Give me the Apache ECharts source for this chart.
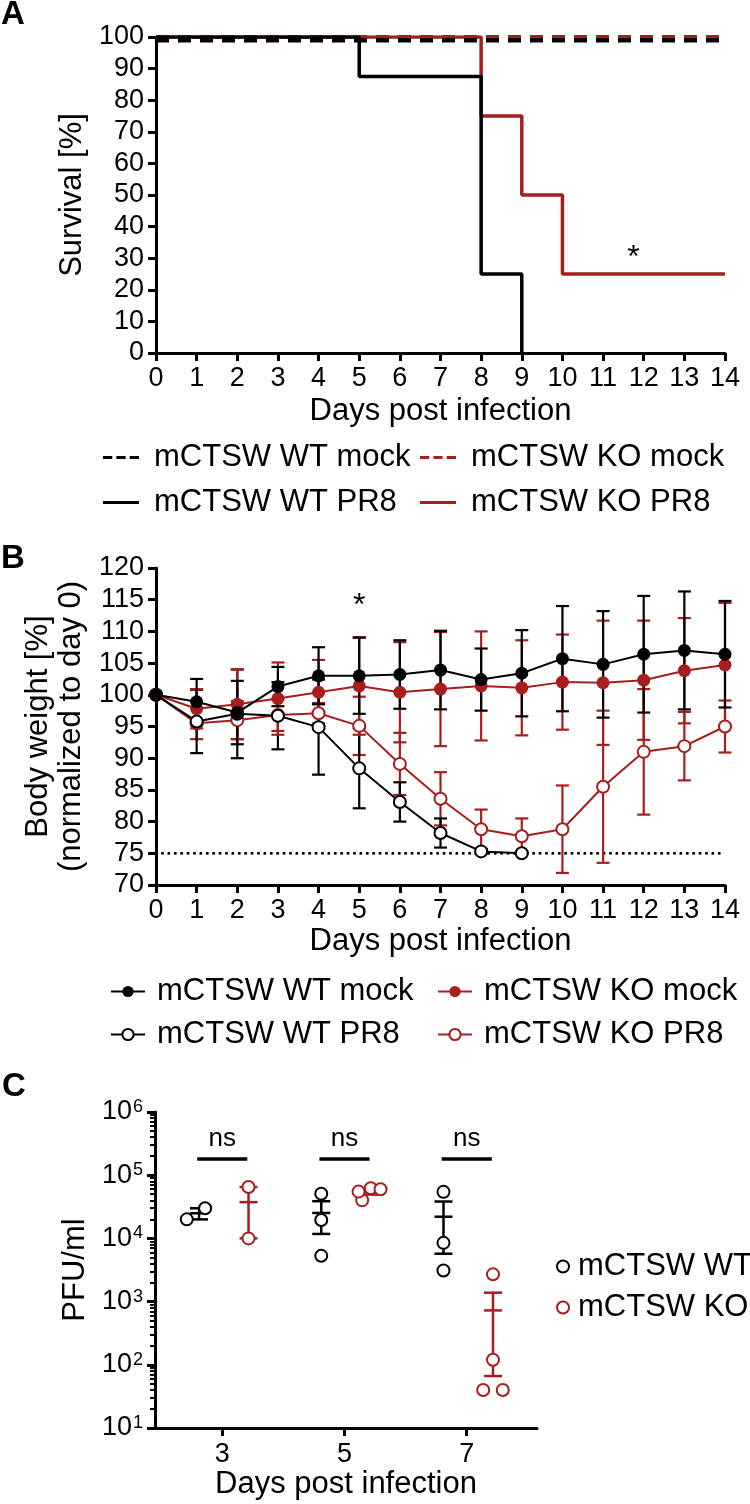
<!DOCTYPE html>
<html><head><meta charset="utf-8">
<script src="https://cdn.jsdelivr.net/npm/echarts@6/dist/echarts.min.js"></script>
<style>html,body{margin:0;padding:0;background:#fff}#c{width:750px;height:1504px}</style>
</head><body><div id="c"></div><script>
const FONT = '"Liberation Sans", Arial, Helvetica, sans-serif';
const RED = '#a81d1d';
const BLACK = '#000';

// ---------- Panel A: survival ----------
const dayTicks = [0,1,2,3,4,5,6,7,8,9,10,11,12,13,14];
const wtMockDays = [0, 14];        const wtMockSurv = [99, 99];
const koMockDays = [0, 14];        const koMockSurv = [100, 100];
const wtPr8Days  = [0, 5, 8, 9];   const wtPr8Surv  = [100, 87.5, 25, 0];
const koPr8Days  = [0, 8, 9, 10, 14]; const koPr8Surv = [100, 75, 50, 25, 25];
const survStar = [11.75, 30];

// ---------- Panel B: body weight (mean, SD) ----------
const bwDays = [0,1,2,3,4,5,6,7,8,9,10,11,12,13,14];
const wtMockMean = [100, 98.9, 97.2, 101.3, 103.0, 103.0, 103.2, 103.9, 102.4, 103.4, 105.7, 104.8, 106.4, 107.0, 106.4];
const wtMockSD   = [0, 3.6, 5.0, 3.1, 4.5, 6.0, 5.4, 6.2, 4.9, 6.8, 8.3, 8.4, 9.2, 9.3, 8.4];
const koMockMean = [100, 97.8, 98.5, 99.4, 100.4, 101.4, 100.4, 100.9, 101.4, 101.1, 102.0, 101.9, 102.3, 103.8, 104.7];
const koMockSD   = [0, 3.1, 5.5, 5.7, 5.1, 7.7, 7.9, 9.0, 8.6, 7.5, 7.5, 9.8, 9.4, 8.3, 9.8];
const wtPr8Mean  = [100, 95.8, 97.0, 96.7, 94.9, 88.4, 83.1, 78.2, 75.3, 75.0];
const wtPr8SD    = [0, 5.0, 7.0, 5.3, 7.5, 6.3, 3.1, 2.3, 0.4, 0];
const koPr8Mean  = [100, 95.5, 96.0, 96.8, 97.1, 95.1, 89.1, 83.6, 78.8, 77.7, 78.8, 85.5, 91.0, 91.9, 95.0];
const koPr8SD    = [0, 2.5, 3.0, 2.5, 1.6, 4.6, 4.9, 4.2, 3.1, 2.8, 6.9, 12.0, 9.9, 5.4, 4.1];
const bwCutoff = 75;
const bwStar = [5, 114];

// ---------- Panel C: viral titres (PFU/ml), individual mice ----------
const pfuDays = [3, 5, 7];
const wtPfu = [[2.0e4, 3.0e4], [5.1e4, 1.95e4, 5.3e3], [5.45e4, 8.5e3, 3.1e3]];
const wtJitter = [[-0.2, 0.1], [0, 0, 0], [0, 0, 0]];
const koPfu = [[6.5e4, 1.0e4], [4.0e4, 5.5e4, 6.2e4, 6.0e4], [2.7e3, 120, 40, 40]];
const koJitter = [[0, 0], [-0.14, -0.2, 0, 0.16], [0, 0, -0.16, 0.16]];
const wtGroupOffset = -0.38, koGroupOffset = 0.43;
const nsLabels = ['ns', 'ns', 'ns'];
const nsLevel = 1.8e5;
const pfuXMin = 1.9, pfuXMax = 8.15;

// ---------- helpers ----------
const zip = (xs, ys) => xs.map((x, i) => [x, ys[i]]);
const sdBars = (means, sds) => means.map((m, i) => [bwDays[i], m - sds[i], m + sds[i]]).filter((d, i) => sds[i] > 0);
function meanOf(a) { return a.reduce((s, v) => s + v, 0) / a.length; }
function semOf(a) { const m = meanOf(a); const v = a.reduce((s, x) => s + (x - m) * (x - m), 0) / (a.length - 1); return Math.sqrt(v / a.length); }

function errSeries(xi, yi, data, color, halfW, lw, withMean, z) {
  return {
    type: 'custom', xAxisIndex: xi, yAxisIndex: yi, z: z, silent: true,
    encode: { x: 0, y: [1, 2] },
    renderItem(params, api) {
      const x = api.value(0);
      const top = api.coord([x, api.value(2)]);
      const bot = api.coord([x, api.value(1)]);
      const st = { stroke: color, lineWidth: lw };
      const ch = [
        { type: 'line', shape: { x1: top[0], y1: top[1], x2: bot[0], y2: bot[1] }, style: st },
        { type: 'line', shape: { x1: top[0] - halfW, y1: top[1], x2: top[0] + halfW, y2: top[1] }, style: st },
        { type: 'line', shape: { x1: bot[0] - halfW, y1: bot[1], x2: bot[0] + halfW, y2: bot[1] }, style: st }
      ];
      if (withMean) {
        const mid = api.coord([x, api.value(3)]);
        ch.push({ type: 'line', shape: { x1: mid[0] - halfW, y1: mid[1], x2: mid[0] + halfW, y2: mid[1] }, style: st });
      }
      return { type: 'group', children: ch };
    },
    data: data
  };
}
function textSeries(xi, yi, data, size) {
  return {
    type: 'custom', xAxisIndex: xi, yAxisIndex: yi, silent: true, z: 10,
    renderItem(params, api) {
      const p = api.coord([api.value(0), api.value(1)]);
      return { type: 'text', x: p[0], y: p[1], style: { text: '*', font: size + 'px ' + FONT, fill: '#000', align: 'center', verticalAlign: 'middle' } };
    },
    data: [data]
  };
}

const TICK_FS = 27, TITLE_FS = 31;
const axisCommon = {
  axisLine: { show: true, onZero: false, lineStyle: { color: '#000', width: 3 } },
  axisTick: { show: true, inside: false, length: 8, lineStyle: { color: '#000', width: 3 } },
  axisLabel: { color: '#000', fontSize: TICK_FS, fontFamily: FONT, margin: 12 },
  splitLine: { show: false },
  nameTextStyle: { color: '#000', fontSize: TITLE_FS, fontFamily: FONT },
  nameLocation: 'middle'
};
const ax = (o) => Object.assign({}, JSON.parse(JSON.stringify(axisCommon)), o);

// C error data
const cWtErr = pfuDays.map((d, i) => { const m = meanOf(wtPfu[i]), s = semOf(wtPfu[i]); return [d + wtGroupOffset, m - s, m + s, m]; });
const cKoErr = pfuDays.map((d, i) => { const m = meanOf(koPfu[i]), s = semOf(koPfu[i]); return [d + koGroupOffset, m - s, m + s, m]; });
const cWtPts = [], cKoPts = [];
pfuDays.forEach((d, i) => {
  wtPfu[i].forEach((v, j) => cWtPts.push([d + wtGroupOffset + wtJitter[i][j], v]));
  koPfu[i].forEach((v, j) => cKoPts.push([d + koGroupOffset + koJitter[i][j], v]));
});

const legendText = (pad) => ({ color: '#000', fontSize: TITLE_FS, fontFamily: FONT, padding: [0, 0, 0, pad] });
const dashIcon = 'path://M0,0H9V3H0Z M13,0H22V3H13Z M26,0H35V3H26Z';
const solidIcon = 'path://M0,0H35V3H0Z';
function legA(name, left, top, icon) {
  return { data: [{ name: name, icon: icon }], left: left, top: top, itemWidth: 36, itemHeight: 4, padding: 0, selectedMode: false, textStyle: legendText(10) };
}
function legB(name, left, top) {
  return { data: [name], left: left, top: top, itemWidth: 34, itemHeight: 14, padding: 0, selectedMode: false, textStyle: legendText(7),
    formatter: n => n.replace('B:', '') };
}
function legC(name, left, top) {
  return { data: [name], left: left, top: top, itemWidth: 12, itemHeight: 12, padding: 0, selectedMode: false, textStyle: legendText(4) };
}

const option = {
  animation: false,
  backgroundColor: '#fff',
  textStyle: { fontFamily: FONT },
  grid: [
    { left: 156, top: 37, width: 569, height: 316, outerBoundsMode: 'none' },
    { left: 156, top: 568, width: 569, height: 317, outerBoundsMode: 'none' },
    { left: 155, top: 1112, width: 382, height: 316, outerBoundsMode: 'none' }
  ],
  xAxis: [
    ax({ gridIndex: 0, type: 'value', min: 0, max: 14, interval: 1, name: 'Days post infection', nameGap: 43 }),
    ax({ gridIndex: 1, type: 'value', min: 0, max: 14, interval: 1, name: 'Days post infection', nameGap: 41 }),
    ax({ gridIndex: 2, type: 'value', min: pfuXMin, max: pfuXMax, name: 'Days post infection', nameGap: 41,
         axisTick: { show: true, length: 8, customValues: pfuDays, lineStyle: { color: '#000', width: 3 } },
         axisLabel: { color: '#000', fontSize: TICK_FS, fontFamily: FONT, margin: 13, customValues: pfuDays } })
  ],
  yAxis: [
    ax({ gridIndex: 0, type: 'value', min: 0, max: 100, interval: 10, name: 'Survival [%]', nameGap: 54 }),
    ax({ gridIndex: 1, type: 'value', min: 70, max: 120, interval: 5, name: 'Body weight [%]\n(normalized to day 0)', nameGap: 66,
         nameTextStyle: { color: '#000', fontSize: TITLE_FS, fontFamily: FONT, lineHeight: 33 } }),
    ax({ gridIndex: 2, type: 'log', logBase: 10, min: 10, max: 1e6, name: 'PFU/ml', nameGap: 59,
         minorTick: { show: true, splitNumber: 9, length: 5, lineStyle: { color: '#000', width: 2 } },
         axisLabel: { color: '#000', fontFamily: FONT, margin: 12,
           formatter: v => '{b|10}{s|' + Math.round(Math.log10(v)) + '}',
           rich: { b: { fontSize: TICK_FS, fontFamily: FONT, color: '#000' }, s: { fontSize: 18, fontFamily: FONT, color: '#000', verticalAlign: 'top', padding: [0, 0, 10, 1] } } } })
  ],
  legend: [
    legA('mCTSW WT mock', 103, 442, dashIcon),
    legA('mCTSW KO mock', 420, 442, dashIcon),
    legA('mCTSW WT PR8', 103, 487, solidIcon),
    legA('mCTSW KO PR8', 420, 487, solidIcon),
    legB('B:mCTSW WT mock', 110, 976),
    legB('B:mCTSW KO mock', 437, 976),
    legB('B:mCTSW WT PR8', 110, 1019),
    legB('B:mCTSW KO PR8', 437, 1019),
    legC('mCTSW WT', 556, 1251),
    legC('mCTSW KO', 556, 1292)
  ],
  graphic: [
    { type: 'text', x: 1, y: 15, style: { text: 'A', font: 'bold 33px ' + FONT, fill: '#000', verticalAlign: 'middle' } },
    { type: 'text', x: 1, y: 559, style: { text: 'B', font: 'bold 33px ' + FONT, fill: '#000', verticalAlign: 'middle' } },
    { type: 'text', x: 2, y: 1087, style: { text: 'C', font: 'bold 33px ' + FONT, fill: '#000', verticalAlign: 'middle' } }
  ],
  series: [
    // Panel A
    { name: 'mCTSW KO mock', type: 'line', xAxisIndex: 0, yAxisIndex: 0, data: zip(koMockDays, koMockSurv), symbol: 'none', z: 1,
      itemStyle: { color: RED }, lineStyle: { color: RED, width: 4, type: [13, 9] } },
    { name: 'mCTSW KO PR8', type: 'line', xAxisIndex: 0, yAxisIndex: 0, data: zip(koPr8Days, koPr8Surv), step: 'end', symbol: 'none', z: 2,
      itemStyle: { color: RED }, lineStyle: { color: RED, width: 3.5 } },
    { name: 'mCTSW WT PR8', type: 'line', xAxisIndex: 0, yAxisIndex: 0, data: zip(wtPr8Days, wtPr8Surv), step: 'end', symbol: 'none', z: 3,
      itemStyle: { color: BLACK }, lineStyle: { color: BLACK, width: 3.5 } },
    { name: 'mCTSW WT mock', type: 'line', xAxisIndex: 0, yAxisIndex: 0, data: zip(wtMockDays, wtMockSurv), symbol: 'none', z: 4,
      itemStyle: { color: BLACK }, lineStyle: { color: BLACK, width: 4.5, type: [13, 9] } },
    textSeries(0, 0, survStar, 32),

    // Panel B
    { type: 'line', xAxisIndex: 1, yAxisIndex: 1, data: [[0, bwCutoff], [14, bwCutoff]], symbol: 'none', silent: true, z: 1,
      lineStyle: { color: '#000', width: 3, type: [0.1, 6.3], cap: 'round' } },
    errSeries(1, 1, sdBars(koPr8Mean, koPr8SD), RED, 6.5, 2.2, false, 2),
    errSeries(1, 1, sdBars(wtPr8Mean, wtPr8SD), BLACK, 6.5, 2.2, false, 2),
    errSeries(1, 1, sdBars(koMockMean, koMockSD), RED, 6.5, 2.2, false, 2),
    errSeries(1, 1, sdBars(wtMockMean, wtMockSD), BLACK, 6.5, 2.2, false, 2),
    { name: 'B:mCTSW KO PR8', type: 'line', xAxisIndex: 1, yAxisIndex: 1, data: zip(bwDays, koPr8Mean), symbol: 'emptyCircle', symbolSize: 12, z: 3,
      itemStyle: { color: RED, borderWidth: 2 }, lineStyle: { color: RED, width: 2 } },
    { name: 'B:mCTSW WT PR8', type: 'line', xAxisIndex: 1, yAxisIndex: 1, data: zip(bwDays.slice(0, wtPr8Mean.length), wtPr8Mean), symbol: 'emptyCircle', symbolSize: 12, z: 4,
      itemStyle: { color: BLACK, borderWidth: 2 }, lineStyle: { color: BLACK, width: 2 } },
    { name: 'B:mCTSW KO mock', type: 'line', xAxisIndex: 1, yAxisIndex: 1, data: zip(bwDays, koMockMean), symbol: 'circle', symbolSize: 13, z: 5,
      itemStyle: { color: RED }, lineStyle: { color: RED, width: 2 } },
    { name: 'B:mCTSW WT mock', type: 'line', xAxisIndex: 1, yAxisIndex: 1, data: zip(bwDays, wtMockMean), symbol: 'circle', symbolSize: 13, z: 6,
      itemStyle: { color: BLACK }, lineStyle: { color: BLACK, width: 2 } },
    textSeries(1, 1, bwStar, 32),

    // Panel C
    errSeries(2, 2, cWtErr, BLACK, 9, 2.5, true, 3),
    errSeries(2, 2, cKoErr, RED, 9, 2.5, true, 3),
    { name: 'mCTSW WT', type: 'scatter', xAxisIndex: 2, yAxisIndex: 2, data: cWtPts, symbol: 'emptyCircle', symbolSize: 12, z: 4,
      itemStyle: { color: BLACK, borderWidth: 2, opacity: 1 } },
    { name: 'mCTSW KO', type: 'scatter', xAxisIndex: 2, yAxisIndex: 2, data: cKoPts, symbol: 'emptyCircle', symbolSize: 12, z: 4,
      itemStyle: { color: RED, borderWidth: 2, opacity: 1 } },
    { type: 'custom', xAxisIndex: 2, yAxisIndex: 2, silent: true, z: 5,
      renderItem(params, api) {
        const x = api.value(0), y = api.value(1);
        const a = api.coord([x - 0.41, y]), b = api.coord([x + 0.41, y]);
        return { type: 'group', children: [
          { type: 'line', shape: { x1: a[0], y1: a[1], x2: b[0], y2: b[1] }, style: { stroke: '#000', lineWidth: 3.5 } },
          { type: 'text', x: (a[0] + b[0]) / 2, y: a[1] - 7, style: { text: nsLabels[params.dataIndex], font: '26px ' + FONT, fill: '#000', align: 'center', verticalAlign: 'bottom' } }
        ] };
      },
      data: pfuDays.map(d => [d, nsLevel]) }
  ]
};

const chart = echarts.init(document.getElementById('c'), null, { renderer: 'canvas' });
chart.setOption(option);
</script></body></html>
